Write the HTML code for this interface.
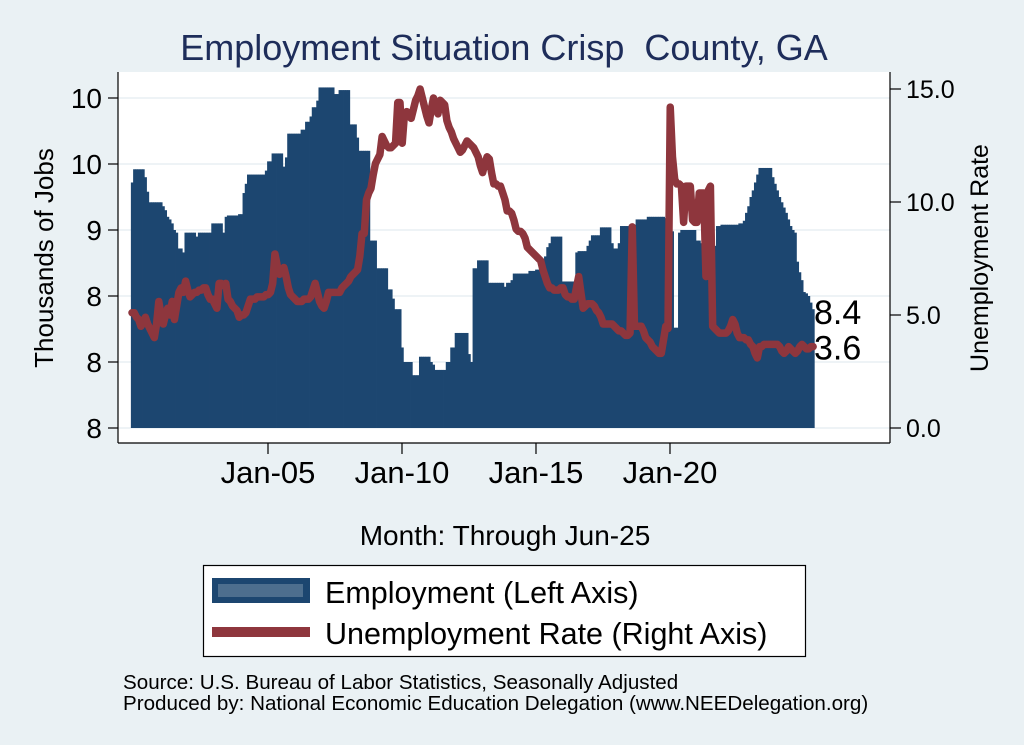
<!DOCTYPE html>
<html><head><meta charset="utf-8">
<style>
html,body{margin:0;padding:0;background:#eaf1f4;}
svg{display:block;font-family:"Liberation Sans",Arial,sans-serif;}
</style></head>
<body>
<svg id="chart" width="1024" height="745" viewBox="0 0 1024 745" xmlns="http://www.w3.org/2000/svg">
<rect x="0" y="0" width="1024" height="745" fill="#eaf1f4"/>
<text x="504" y="60" font-size="36" fill="#1e2d5a" text-anchor="middle" xml:space="preserve" style="white-space:pre">Employment Situation Crisp  County, GA</text>
<rect x="118" y="72" width="772" height="371" fill="#ffffff"/>
<g id="grid"></g>
<g id="bars"></g>
<path id="uline" fill="none" stroke="#8e363d" stroke-width="7.5" stroke-linejoin="round" stroke-linecap="round"/>
<line x1="118" y1="72" x2="118" y2="443" stroke="#000" stroke-width="1.2"/>
<line x1="890" y1="72" x2="890" y2="443" stroke="#000" stroke-width="1.2"/>
<line x1="118" y1="443" x2="890" y2="443" stroke="#000" stroke-width="1.2"/>
<g id="lticks"></g>
<g id="rticks"></g>
<g id="xticks"></g>
<text id="lastE" x="814" y="325" font-size="34" fill="#000">8.4</text>
<text id="lastU" x="814" y="361" font-size="34" fill="#000">3.6</text>
<text transform="translate(53,258) rotate(-90)" font-size="26" text-anchor="middle" fill="#000">Thousands of Jobs</text>
<text transform="translate(988,258) rotate(-90)" font-size="25" text-anchor="middle" fill="#000">Unemployment Rate</text>
<text x="505" y="545" font-size="28" text-anchor="middle" fill="#000">Month: Through Jun-25</text>
<g>
<rect x="203.5" y="565.5" width="602" height="91" fill="#fff" stroke="#000" stroke-width="1.2"/>
<rect x="212" y="578" width="98" height="25" fill="#1c4670"/>
<rect x="218" y="584" width="85" height="13" fill="#4d6e8e"/>
<text x="325" y="603" font-size="30.5" fill="#000">Employment (Left Axis)</text>
<rect x="212" y="627" width="98" height="10" fill="#8e363d"/>
<text x="325" y="644" font-size="30.5" fill="#000">Unemployment Rate (Right Axis)</text>
</g>
<text x="123" y="689" font-size="20.6" fill="#000">Source: U.S. Bureau of Labor Statistics, Seasonally Adjusted</text>
<text x="123" y="710" font-size="20.6" fill="#000">Produced by: National Economic Education Delegation (www.NEEDelegation.org)</text>
</svg>
<script>
const employment = [
9.36,9.46,9.46,9.46,9.46,9.46,9.40,9.29,9.21,9.21,9.21,9.21,
9.21,9.21,9.18,9.15,9.10,9.08,9.05,9.00,8.98,8.86,8.86,8.83,
8.98,8.98,8.98,8.98,8.98,8.95,8.98,8.98,8.98,8.98,8.98,8.98,
9.05,9.05,9.05,9.05,9.05,8.98,9.10,9.11,9.11,9.11,9.11,9.11,
9.12,9.12,9.28,9.35,9.42,9.42,9.42,9.42,9.42,9.42,9.42,9.42,
9.45,9.52,9.52,9.58,9.58,9.58,9.58,9.58,9.48,9.55,9.73,9.73,
9.73,9.73,9.73,9.73,9.76,9.76,9.82,9.82,9.86,9.93,9.93,9.98,
10.08,10.08,10.08,10.08,10.08,10.08,10.08,10.03,10.03,10.06,10.06,10.06,
10.06,10.06,9.80,9.80,9.80,9.70,9.60,9.60,9.60,9.60,9.60,8.92,
8.92,8.92,8.71,8.71,8.71,8.71,8.71,8.55,8.55,8.48,8.40,8.40,
8.40,8.11,8.00,8.00,8.00,8.00,7.90,7.90,7.90,8.04,8.04,8.04,
8.04,8.04,8.00,7.98,7.94,7.94,7.94,7.94,7.94,8.00,8.00,8.11,
8.11,8.22,8.22,8.22,8.22,8.22,8.22,8.06,8.00,8.71,8.71,8.77,
8.77,8.77,8.77,8.77,8.60,8.60,8.60,8.60,8.60,8.60,8.60,8.57,
8.60,8.60,8.62,8.67,8.67,8.67,8.67,8.67,8.67,8.67,8.69,8.69,
8.69,8.70,8.70,8.70,8.75,8.80,8.87,8.90,8.95,8.95,8.95,8.95,
8.95,8.61,8.61,8.61,8.61,8.61,8.61,8.83,8.84,8.84,8.84,8.84,
8.88,8.92,8.96,8.96,8.96,8.96,9.02,9.02,9.02,9.02,9.02,8.90,
8.86,8.86,8.90,9.03,9.03,9.03,9.03,9.04,9.04,9.04,9.08,9.08,
9.08,9.08,9.08,9.10,9.10,9.10,9.10,9.10,9.10,9.10,9.10,9.09,
9.09,9.09,8.99,8.26,8.26,8.98,9.00,9.00,9.00,9.00,9.00,9.00,
9.00,8.92,8.92,8.90,8.88,8.88,8.88,8.88,8.88,8.88,9.03,9.03,
9.04,9.04,9.04,9.04,9.04,9.04,9.04,9.04,9.05,9.05,9.07,9.13,
9.18,9.25,9.30,9.36,9.42,9.47,9.47,9.47,9.47,9.47,9.47,9.40,
9.35,9.30,9.25,9.21,9.17,9.13,9.08,9.03,9.00,8.98,8.76,8.68,
8.62,8.53,8.52,8.50,8.45,8.40
];
const unemployment = [
5.1,5.1,4.9,4.8,4.5,4.7,4.9,4.6,4.4,4.2,4.0,4.6,
5.6,5.0,4.6,5.0,5.3,5.0,5.6,4.8,5.4,6.0,6.2,6.0,
6.5,6.1,5.8,5.9,6.0,6.0,6.1,6.1,6.2,6.2,5.9,5.7,
5.7,5.5,5.3,6.4,6.4,6.3,6.4,5.7,5.6,5.4,5.3,5.2,
4.9,5.0,5.0,5.1,5.4,5.7,5.7,5.7,5.8,5.8,5.8,5.8,
5.9,5.9,6.0,6.4,7.7,7.2,6.8,7.0,7.1,6.7,6.2,5.9,
5.8,5.7,5.6,5.6,5.6,5.7,5.7,5.7,5.8,6.1,6.4,6.0,
5.6,5.4,5.3,5.6,6.0,6.0,6.0,6.0,6.0,6.0,6.2,6.3,
6.4,6.5,6.7,6.8,6.9,7.0,7.6,8.6,8.6,10.1,10.4,10.6,
11.2,11.7,11.9,12.1,12.9,12.7,12.5,12.4,12.4,12.5,12.6,14.4,
14.4,12.6,13.9,14.0,13.8,13.7,14.1,14.5,14.7,15.0,14.6,14.2,
13.8,13.5,14.1,14.6,14.3,13.9,14.5,14.4,14.3,13.6,13.3,13.1,
12.8,12.6,12.4,12.2,12.3,12.5,12.7,12.6,12.5,12.4,12.2,12.0,
11.6,11.3,11.7,12.0,11.9,11.3,10.8,10.8,10.7,10.7,10.4,10.1,
9.6,9.6,9.5,9.2,8.8,8.7,8.7,8.6,8.4,8.0,7.9,7.8,
7.7,7.6,7.5,7.4,7.0,6.7,6.4,6.2,6.2,6.1,6.1,6.1,
6.2,6.2,5.9,5.8,5.8,5.7,5.7,6.2,6.7,6.0,5.3,5.4,
5.5,5.5,5.5,5.4,5.2,5.1,4.9,4.6,4.6,4.6,4.6,4.6,
4.5,4.4,4.3,4.3,4.2,4.1,4.1,4.2,8.9,4.5,4.5,4.5,
4.5,4.3,4.0,3.9,3.8,3.6,3.5,3.4,3.3,3.3,3.9,4.5,
4.4,14.2,12.0,11.0,10.8,10.8,10.7,9.1,10.7,10.7,10.7,9.2,
9.1,9.1,10.4,10.4,10.4,6.7,10.5,10.7,4.5,4.4,4.3,4.2,
4.2,4.2,4.2,4.3,4.5,4.8,4.6,4.2,4.0,4.0,4.0,3.9,
3.9,3.7,3.6,3.3,3.1,3.6,3.6,3.7,3.7,3.7,3.7,3.7,
3.7,3.7,3.6,3.4,3.3,3.4,3.6,3.5,3.4,3.3,3.4,3.6,
3.7,3.6,3.5,3.5,3.6,3.6
];
const leftTicks = [7.5,8,8.5,9,9.5,10];
const leftTickLabels = ["8","8","8","9","10","10"];
const rightTicks = [0,5,10,15];
const rightTickLabels = ["0.0","5.0","10.0","15.0"];
const xTickMonths = [60,120,180,240];
const xTickLabels = ["Jan-05","Jan-10","Jan-15","Jan-20"];

const NS = "http://www.w3.org/2000/svg";
const X0 = 132, DX = 2.2333;
function xs(m){ return X0 + m*DX; }
function yl(v){ return 428 - (v-7.5)*132; }
function yr(u){ return 428 - u*22.6; }
function mk(tag, attrs, parent){
  const e = document.createElementNS(NS, tag);
  for (const k in attrs) e.setAttribute(k, attrs[k]);
  parent.appendChild(e); return e;
}
const grid = document.getElementById('grid');
leftTicks.forEach((t,i)=>{
  const g = mk('line',{x1:118,x2:890,y1:yl(t),y2:yl(t),stroke:'#e8eff3','stroke-width':1.5},grid);
  
  
});
const bars = document.getElementById('bars');
employment.forEach((v,m)=>{
  const r = mk('rect',{x:(xs(m)-DX/2).toFixed(2),y:yl(v).toFixed(2),width:(DX+0.4).toFixed(2),height:(yl(7.5)-yl(v)).toFixed(2),fill:'#1c4670'},bars);
  
  
});
document.getElementById('uline').setAttribute('d', unemployment.map((u,m)=>(m?'L':'M')+xs(m).toFixed(2)+','+yr(u).toFixed(2)).join(''));
const lt = document.getElementById('lticks');
leftTicks.forEach((t,i)=>{
  const l = mk('line',{x1:108,x2:118,y1:yl(t),y2:yl(t),stroke:'#000','stroke-width':1.2},lt);
  
  
  const tx = mk('text',{x:102,y:yl(t)+10,'font-size':28,'text-anchor':'end',fill:'#000'},lt);
  
  
  tx.textContent = leftTickLabels[i];
});
const rt = document.getElementById('rticks');
rightTicks.forEach((t,i)=>{
  const l = mk('line',{x1:890,x2:901,y1:yr(t),y2:yr(t),stroke:'#000','stroke-width':1.2},rt);
  
  
  const tx = mk('text',{x:906,y:yr(t)+9,'font-size':25,fill:'#000'},rt);
  
  
  tx.textContent = rightTickLabels[i];
});
const xt = document.getElementById('xticks');
xTickMonths.forEach((m,i)=>{
  const l = mk('line',{x1:xs(m)+2,x2:xs(m)+2,y1:443,y2:454,stroke:'#000','stroke-width':1.2},xt);
  
  
  const tx = mk('text',{x:xs(m)+2,y:483,'font-size':31,'text-anchor':'middle',fill:'#000'},xt);
  
  
  tx.textContent = xTickLabels[i];
});
const lastM = employment.length-1;
document.getElementById('lastE').textContent = employment[lastM].toFixed(1);
document.getElementById('lastE').setAttribute('y', (yl(employment[lastM])+15).toFixed(1));
document.getElementById('lastU').textContent = unemployment[unemployment.length-1].toFixed(1);
document.getElementById('lastU').setAttribute('y', (yr(unemployment[unemployment.length-1])+13).toFixed(1));
</script>
</body></html>
